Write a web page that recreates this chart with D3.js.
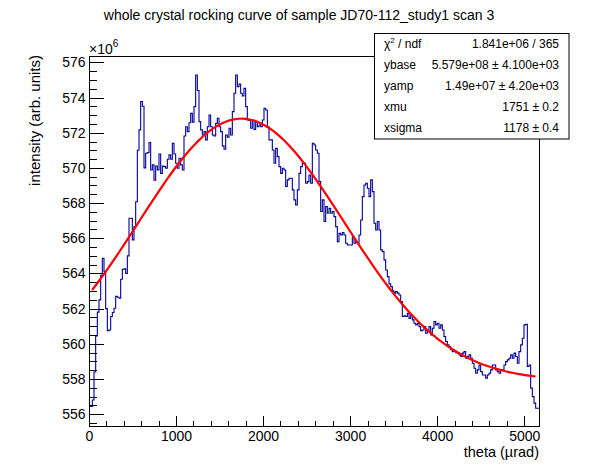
<!DOCTYPE html>
<html>
<head>
<meta charset="utf-8">
<script src="https://cdn.jsdelivr.net/npm/d3@7"></script>
<style>
    body { margin: 0; background: #fff; }
    svg { display: block; font-family: "Liberation Sans", Arial, Helvetica, sans-serif; }
</style>
</head>
<body>
<svg id="chart" width="598" height="474"></svg>
<script>
// histogram: 270 equal bins over theta (urad)
const thetaRange = [0, 5170];
// bin contents in units of 10^6
const counts = [
    556.44, 556.44, 556.81, 558.4, 560.45, 561.8, 562.5, 563.9, 564.86, 564.11,
    562.0, 560.75, 560.79, 561.55, 561.78, 562.02, 562.7, 562.65, 562.59, 563.67,
    564.24, 564.26, 564.0, 565.0, 567.14, 567.14, 565.91, 566.66, 568.08, 571.0,
    572.16, 573.77, 573.5, 570.0, 570.83, 570.87, 571.44, 569.88, 570.17, 569.3,
    570.11, 569.88, 570.79, 569.69, 570.11, 570.07, 569.98, 570.49, 570.75, 570.49,
    571.40, 570.79, 570.26, 569.98, 570.55, 570.17, 569.88, 571.81, 572.34, 572.06,
    572.57, 573.10, 572.6, 573.48, 575.28, 574.4, 572.63,
    572.16, 571.87, 572.06, 571.59, 572.34, 573.01, 572.34, 571.87, 571.81, 572.53,
    572.82, 572.34, 572.06, 571.25, 571.06, 571.87, 571.74, 572.25, 571.87, 573.20,
    574.24, 575.28, 574.62, 574.77, 574.24, 574.09, 574.52, 573.48, 572.72, 572.69,
    572.25, 572.72, 572.19, 572.63, 572.34, 572.44, 572.34, 572.72, 573.39, 573.29,
    572.34, 571.59, 571.59, 571.02, 570.26, 571.11, 570.64, 570.07, 569.69, 569.98,
    569.88, 568.94, 569.32, 569.41, 569.41, 568.75, 568.18, 567.89, 568.75, 569.69,
    570.07, 570.26, 570.26, 569.13, 569.22, 569.60, 569.13,
    571.40, 571.30, 571.02, 570.83, 569.22, 567.52, 568.18, 566.95, 567.80, 567.42,
    567.70, 567.42, 567.52, 567.23, 566.66, 565.81, 566.28, 566.19, 566.32, 566.19,
    565.72, 565.62, 565.62, 565.62, 566.09, 565.72, 565.81, 565.72, 566.19, 567.04,
    568.37, 569.03, 569.13, 568.84, 568.37, 569.32, 568.65, 566.85, 566.47, 566.95,
    566.47, 565.34, 565.24, 564.77, 564.20, 563.82, 563.41, 563.25, 563.01, 562.88,
    562.97, 562.88, 562.78, 562.40, 561.55, 561.59, 561.55, 561.74, 561.45, 561.64,
    561.36, 561.17, 561.08, 561.17, 560.98, 560.75, 560.79,
    560.98, 560.60, 560.79, 560.98, 560.51, 560.89, 561.27, 561.08, 561.17, 560.89,
    561.08, 560.79, 560.41, 560.13, 559.94, 559.84, 559.66, 559.56, 559.62, 559.50,
    559.47, 559.37, 559.28, 559.47, 559.56, 559.18, 559.28, 559.37, 559.18, 558.90,
    558.61, 558.33, 558.52, 558.80, 558.42, 558.23, 558.23, 558.05, 558.23, 558.33,
    558.52, 558.80, 558.80, 558.52, 558.42, 558.33, 558.52, 558.52, 558.80, 558.99,
    559.09, 559.18, 559.37, 559.18, 559.47, 559.28, 558.90, 559.56, 559.94, 560.32,
    561.08, 561.11, 558.71, 558.80, 557.48, 557.00, 556.63, 556.34, 556.34
];
// gaussian fit: ybase, yamp (10^6), xmu, xsigma
const fitPars = [557.9, 14.9, 1751, 1178];
const fitRange = [35, 5130];
const yRange = [555.33, 576.36];
const xMajor = [0, 1000, 2000, 3000, 4000, 5000];
const yMajor = [556, 558, 560, 562, 564, 566, 568, 570, 572, 574, 576];
const statNames = ["ndf", "ybase", "yamp", "xmu", "xsigma"];
const statValues = ["1.841e+06 / 365", "5.579e+08 \u00b1 4.100e+03", "1.49e+07 \u00b1 4.20e+03", "1751 \u00b1 0.2", "1178 \u00b1 0.4"];

const frame = {left: 89, right: 539, top: 56, bottom: 426};
const svg = d3.select("#chart");

const x = d3.scaleLinear().domain(thetaRange).range([frame.left, frame.right]);
const y = d3.scaleLinear().domain(yRange).range([frame.bottom, frame.top]);

// title
svg.append("text")
    .attr("x", 299)
    .attr("y", 20)
    .attr("text-anchor", "middle")
    .attr("font-size", 14)
    .text("whole crystal rocking curve of sample JD70-112_study1 scan 3");

// frame
svg.append("rect")
    .attr("x", frame.left + 0.5)
    .attr("y", frame.top + 0.5)
    .attr("width", frame.right - frame.left)
    .attr("height", frame.bottom - frame.top)
    .attr("fill", "none")
    .attr("stroke", "black");

// clip for the data
svg.append("defs").append("clipPath")
    .attr("id", "plotclip")
    .append("rect")
    .attr("x", frame.left)
    .attr("y", frame.top)
    .attr("width", frame.right - frame.left + 1)
    .attr("height", frame.bottom - frame.top + 1);

// axes, ticks point into the frame like ROOT
const yMinor = d3.range(555.5, 576.01, 0.5);
const xMinor = d3.range(0, 5001, 200);

svg.append("g")
    .attr("transform", `translate(${frame.left + 0.5},0)`)
    .call(d3.axisLeft(y).tickValues(yMajor).tickSizeInner(-14).tickSizeOuter(0).tickPadding(4).tickFormat(d3.format("d")));
svg.append("g")
    .attr("transform", `translate(${frame.left + 0.5},0)`)
    .call(d3.axisLeft(y).tickValues(yMinor).tickSizeInner(-7).tickSizeOuter(0).tickFormat(""));

svg.append("g")
    .attr("transform", `translate(0,${frame.bottom + 0.5})`)
    .call(d3.axisBottom(x).tickValues(xMajor).tickSizeInner(-11).tickSizeOuter(0).tickPadding(5).tickFormat(d3.format("d")));
svg.append("g")
    .attr("transform", `translate(0,${frame.bottom + 0.5})`)
    .call(d3.axisBottom(x).tickValues(xMinor).tickSizeInner(-5.5).tickSizeOuter(0).tickFormat(""));

svg.selectAll(".domain").remove();
svg.selectAll(".tick line").attr("stroke", "black").attr("shape-rendering", "crispEdges");
svg.selectAll(".tick text")
    .attr("font-size", 14)
    .attr("font-family", "Liberation Sans, Arial, sans-serif")
    .attr("fill", "black");

// x10^6 multiplier
let mult = svg.append("text")
    .attr("x", frame.left)
    .attr("y", 54)
    .attr("font-size", 14);
mult.append("tspan").text("\u00d710");
mult.append("tspan").attr("font-size", 10).attr("dy", -7).text("6");

// axis titles
svg.append("text")
    .attr("x", frame.right)
    .attr("y", 457)
    .attr("text-anchor", "end")
    .attr("font-size", 14.5)
    .text("theta (\u00b5rad)");

svg.append("text")
    .attr("transform", "translate(39.5,55) rotate(-90)")
    .attr("text-anchor", "end")
    .attr("font-size", 15)
    .text("intensity (arb. units)");

// histogram as a step line
const binW = (thetaRange[1] - thetaRange[0]) / counts.length;
let steps = counts.map((c, i) => [thetaRange[0] + i * binW, c]);
steps.push([thetaRange[1], counts[counts.length - 1]]);

const plot = svg.append("g").attr("clip-path", "url(#plotclip)");

plot.append("path")
    .datum(steps)
    .attr("fill", "none")
    .attr("stroke", "#000099")
    .attr("stroke-width", 1.1)
    .attr("d", d3.line().x(d => x(d[0])).y(d => y(d[1])).curve(d3.curveStepAfter));

// fit function drawn from the fitted parameters
const gaus = t => fitPars[0] + fitPars[1] * Math.exp(-0.5 * Math.pow((t - fitPars[2]) / fitPars[3], 2));
const fitPts = d3.range(fitRange[0], fitRange[1] + 1, (fitRange[1] - fitRange[0]) / 100).map(t => [t, gaus(t)]);

plot.append("path")
    .datum(fitPts)
    .attr("fill", "none")
    .attr("stroke", "#ff0000")
    .attr("stroke-width", 2.2)
    .attr("d", d3.line().x(d => x(d[0])).y(d => y(d[1])));

// stats box
const box = {x: 374.5, y: 33.5, w: 194.5, h: 105.5};
const sb = svg.append("g");
sb.append("rect")
    .attr("x", box.x)
    .attr("y", box.y)
    .attr("width", box.w)
    .attr("height", box.h)
    .attr("fill", "white")
    .attr("stroke", "black");

const rowH = box.h / statNames.length;
statNames.forEach((name, i) => {
    let cy = box.y + rowH * (i + 0.5) + 4;
    let lab = sb.append("text")
        .attr("x", box.x + 9.5)
        .attr("y", cy)
        .attr("font-size", 12);
    if (i == 0) {
        lab.append("tspan").text("\u03c7");
        lab.append("tspan").attr("font-size", 8).attr("dy", -5).text("2");
        lab.append("tspan").attr("dy", 5).text(" / " + name);
    } else {
        lab.text(name);
    }
    sb.append("text")
        .attr("x", box.x + box.w - 10)
        .attr("y", cy)
        .attr("text-anchor", "end")
        .attr("font-size", 12)
        .text(statValues[i]);
});
</script>
</body>
</html>
